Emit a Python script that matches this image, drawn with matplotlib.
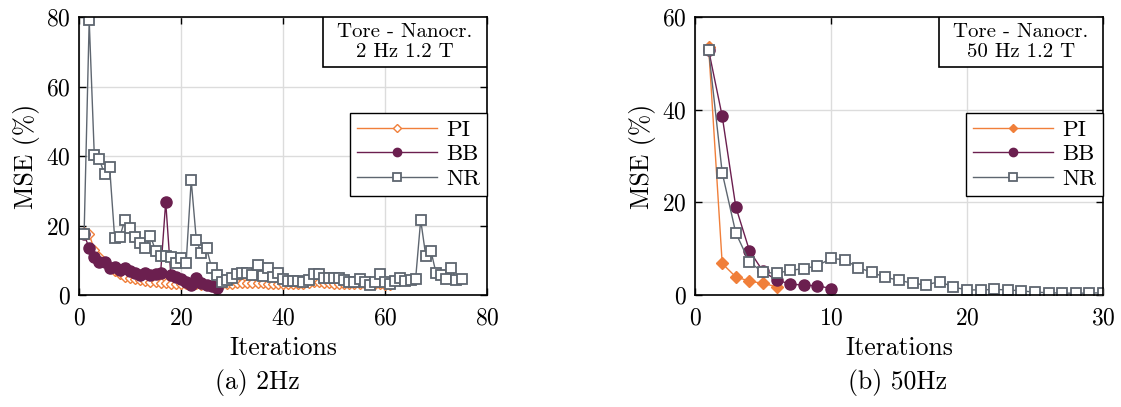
import matplotlib
matplotlib.use("Agg")
import matplotlib.pyplot as plt
from matplotlib.patches import Rectangle

plt.rcParams['font.family'] = 'serif'
plt.rcParams['font.serif'] = ['cmr10']
plt.rcParams['mathtext.fontset'] = 'cm'
plt.rcParams['axes.unicode_minus'] = False
plt.rcParams['axes.formatter.use_mathtext'] = True

# ---------------- data: 2 Hz ----------------
pi_2hz = [18, 17.5, 13, 11, 9.5, 8, 7, 6, 5.3, 4.8, 4.5, 4.2, 4.0, 3.8, 3.6, 3.5, 3.4, 3.3, 3.3, 3.2,
          3.2, 3.1, 3.1, 3.0, 3.0, 3.0, 3.0, 3.1, 3.2, 3.3, 3.4, 3.4, 3.5, 3.5, 3.4, 3.4, 3.3, 3.3, 3.2, 3.2,
          3.1, 3.1, 3.2, 3.3, 3.5, 3.6, 3.6, 3.5, 3.4, 3.3, 3.2, 3.2, 3.1, 3.1, 3.2, 3.3, 3.3, 3.2, 3.1, 3.0,
          3.0]
bb_2hz = [17.5, 13.4, 11.0, 9.6, 9.6, 7.9, 8.2, 7.2, 7.9, 7.0, 6.3, 5.8, 6.3, 5.8, 6.0, 6.3, 26.8,
          5.8, 5.2, 4.6, 3.6, 2.9, 4.9, 3.4, 3.0, 2.5, 2.0]
nr_2hz = [17.5, 79, 40.2, 39.1, 34.7, 36.9, 16.3, 16.7, 21.7, 19.4, 16.7, 15.1, 13.4, 17.0, 12.8,
          11.2, 11.2, 11.0, 9.1, 10.6, 9.1, 33.0, 15.9, 12.0, 13.5, 7.9, 5.7, 3.7, 4.4, 4.9,
          6.0, 6.3, 6.3, 5.8, 8.5, 5.6, 7.8, 5.2, 6.2, 4.5, 4.0, 4.0, 4.0, 3.7, 4.2, 6.0,
          6.0, 5.0, 4.8, 4.8, 5.0, 4.3, 3.8, 3.8, 4.6, 3.8, 2.9, 3.8, 6.0, 3.8, 3.3, 4.0,
          5.0, 4.1, 4.3, 4.6, 21.6, 11.2, 12.7, 6.4, 5.8, 4.5, 7.7, 4.3, 4.5]

# ---------------- data: 50 Hz ----------------
pi_50hz = [53.6, 6.8, 3.9, 3.0, 2.5, 1.8]
bb_50hz = [52.9, 38.6, 19.0, 9.6, 5.1, 3.2, 2.4, 2.1, 2.0, 1.4]
nr_50hz = [52.9, 26.4, 13.4, 7.1, 4.9, 4.7, 5.3, 5.7, 6.3, 7.9, 7.6, 5.9, 4.9, 3.8, 3.2, 2.5,
           2.2, 2.9, 1.7, 1.1, 1.1, 1.2, 1.1, 0.9, 0.6, 0.5, 0.4, 0.4, 0.4, 0.5]

series_labels = ["PI", "BB", "NR"]
box_text_2hz = "Tore - Nanocr.\n2 Hz 1.2 T"
box_text_50hz = "Tore - Nanocr.\n50 Hz 1.2 T"
captions = ["(a) 2Hz", "(b) 50Hz"]

c_pi = '#F07F3A'
c_bb = '#6B1F4F'
c_nr = '#5E6670'

TICK_FS = 17
LABEL_FS = 18.5
BOX_FS = 15
LEG_FS = 16.5

fig = plt.figure(figsize=(11.21, 4.07), dpi=100)
W, H = 1121, 407


def make_axes(x0, x1, y0, y1):
    return fig.add_axes([x0 / W, 1 - y1 / H, (x1 - x0) / W, (y1 - y0) / H])


ax1 = make_axes(79, 487, 17, 295)
ax2 = make_axes(695, 1103, 17, 295)


def style(ax, xlim, ylim, xticks, yticks):
    ax.set_xlim(*xlim)
    ax.set_ylim(*ylim)
    ax.set_xticks(xticks)
    ax.set_yticks(yticks)
    ax.grid(True, color='#dcdcdc', lw=1.0)
    ax.set_axisbelow(True)
    ax.tick_params(direction='in', top=True, right=True, labelsize=TICK_FS, length=5, width=1.0)
    ax.tick_params(axis='x', pad=9)
    ax.tick_params(axis='y', pad=6)
    for s in ax.spines.values():
        s.set_linewidth(1.2)
        s.set_color('black')
    ax.set_xlabel("Iterations", fontsize=LABEL_FS, labelpad=5)
    ax.set_ylabel("MSE (%)", fontsize=LABEL_FS, labelpad=4)


def add_box(ax, txt):
    ax.add_patch(Rectangle((0.598, 0.82), 0.402, 0.18, transform=ax.transAxes,
                           facecolor='white', edgecolor='black', lw=1.2, zorder=5))
    ax.text(0.799, 0.91, txt, transform=ax.transAxes, ha='center', va='center',
            fontsize=BOX_FS, zorder=6, linespacing=1.2)


# ---- left ----
x_pi = range(1, len(pi_2hz) + 1)
x_bb = range(1, len(bb_2hz) + 1)
x_nr = range(1, len(nr_2hz) + 1)
ax1.plot(x_pi, pi_2hz, color=c_pi, lw=1.0, marker='D', ms=5, mfc='white', mec=c_pi, mew=1.0, label=series_labels[0])
ax1.plot(x_bb, bb_2hz, color=c_bb, lw=1.0, marker='o', ms=8, mfc=c_bb, mec=c_bb, label=series_labels[1])
ax1.plot(x_nr, nr_2hz, color=c_nr, lw=1.0, marker='s', ms=7, mfc='white', mec=c_nr, mew=1.3, label=series_labels[2])
style(ax1, (0, 80), (0, 80), [0, 20, 40, 60, 80], [0, 20, 40, 60, 80])
add_box(ax1, box_text_2hz)

# ---- right ----
ax2.plot(range(1, len(pi_50hz) + 1), pi_50hz, color=c_pi, lw=1.0, marker='D', ms=6, mfc=c_pi, mec=c_pi, label=series_labels[0])
ax2.plot(range(1, len(bb_50hz) + 1), bb_50hz, color=c_bb, lw=1.0, marker='o', ms=8, mfc=c_bb, mec=c_bb, label=series_labels[1])
ax2.plot(range(1, len(nr_50hz) + 1), nr_50hz, color=c_nr, lw=1.0, marker='s', ms=7, mfc='white', mec=c_nr, mew=1.3, label=series_labels[2])
style(ax2, (0, 30), (0, 60), [0, 10, 20, 30], [0, 20, 40, 60])
add_box(ax2, box_text_50hz)

for ax in (ax1, ax2):
    leg = ax.legend(loc='upper right', bbox_to_anchor=(1.0, 0.655), fontsize=LEG_FS,
                    handlelength=3.5, labelspacing=0.2, borderpad=0.3, handletextpad=0.4,
                    markerscale=0.75, fancybox=False, framealpha=1, edgecolor='black', borderaxespad=0)
    leg.get_frame().set_linewidth(1.0)
    leg.set_zorder(6)

fig.text(257 / W, 1 - 382 / H, captions[0], ha='center', va='center', fontsize=LABEL_FS)
fig.text(898 / W, 1 - 382 / H, captions[1], ha='center', va='center', fontsize=LABEL_FS)

fig.savefig("out.png", dpi=100)
